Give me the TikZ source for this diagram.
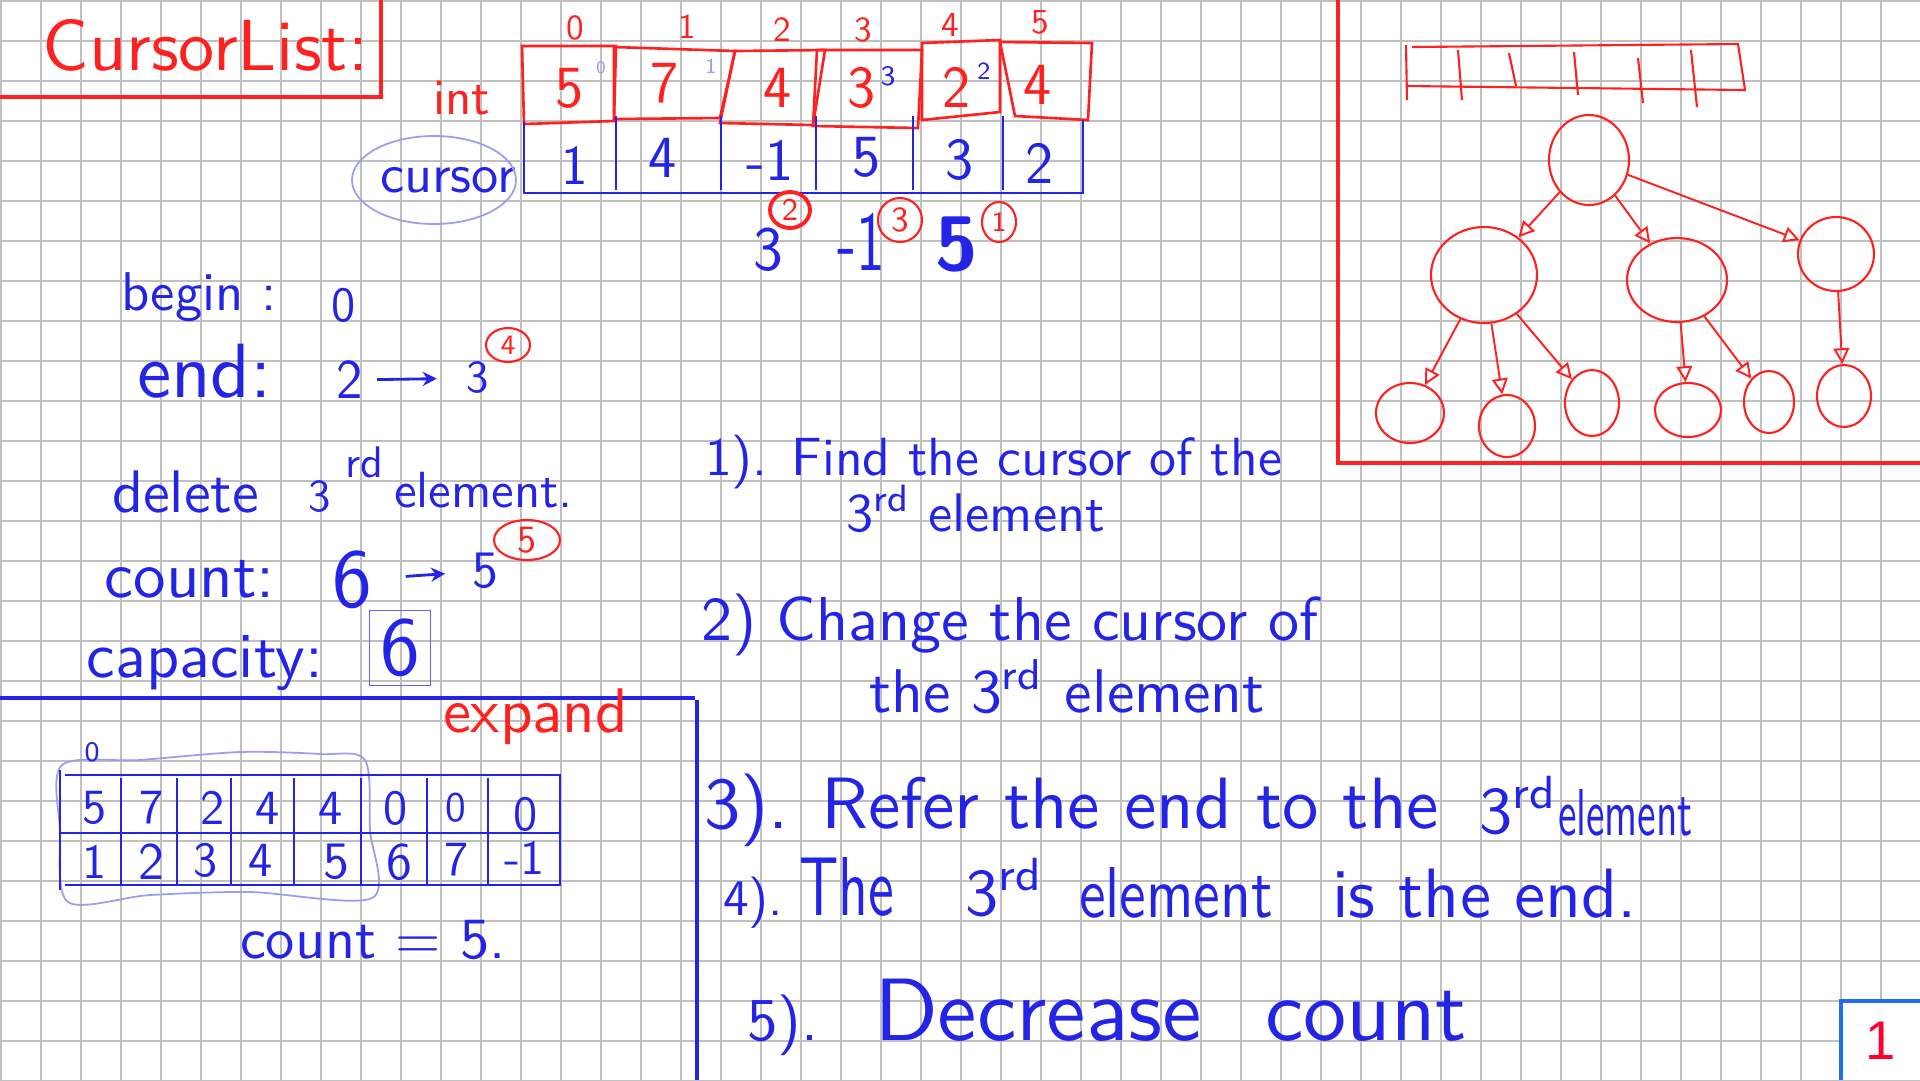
\documentclass[tikz,border=0pt]{standalone}
\usepackage{fontspec}
\usepackage{graphicx}
\usetikzlibrary{shapes.geometric,arrows.meta}
\newfontfamily\pgfont{Liberation Sans}
\newlength\pxu
\setlength\pxu{0.1mm}
\newcommand{\hw}[2]{\resizebox{#1\pxu}{!}{#2}}
\newcommand{\hwh}[3]{\resizebox{#1\pxu}{#2\pxu}{#3}}
\newcommand{\pfs}[1]{\sffamily\fontsize{#1}{#1}\selectfont}
\definecolor{pen}{HTML}{2424E6}
\definecolor{rpen}{HTML}{FF2020}
\definecolor{lpen}{HTML}{9C9CF0}
\definecolor{gridc}{HTML}{C0C0C0}
\definecolor{frameb}{HTML}{1F6FF0}
\definecolor{pgred}{HTML}{FF0030}
\begin{document}
\begin{tikzpicture}[x=0.1mm,y=-0.1mm,font=\sffamily,
  gridline/.style={draw=gridc,line width=0.55pt},
  txt/.style={inner sep=0pt,outer sep=0pt,anchor=base west},
  dg/.style={inner sep=0pt,outer sep=0pt,anchor=center},
  bl/.style={text=pen},
  rd/.style={text=rpen},
  bline/.style={draw=pen,line width=0.75pt},
  rline/.style={draw=rpen,line width=0.75pt},
  tnode/.style={ellipse,draw=rpen,line width=0.6pt,inner sep=0pt},
  cnum/.style={ellipse,draw=rpen,line width=0.6pt,inner sep=0pt,text=rpen},
  tarr/.style={draw=rpen,line width=0.55pt,-{Triangle[open,length=4.5pt,width=4.5pt]}},
  barr/.style={draw=pen,line width=0.8pt,-{Stealth[length=4pt,width=4pt]}}]
\useasboundingbox (0,0) rectangle (1920,1080);
\fill[white] (0,0) rectangle (1920,1080);
\foreach \i in {0,...,48} \draw[gridline] (\i*40+1,0) -- (\i*40+1,1080);
\foreach \j in {0,...,27} \draw[gridline] (0,\j*40+1) -- (1920,\j*40+1);

% ---------- title ----------
\draw[rline,line width=1pt] (381,0) -- (381,97) -- (0,97);
\node[txt,rd] (title) at (43,70) {\hw{325}{CursorList:}};

% ---------- top array ----------
\draw[rline] (522,46) -- (616,46) -- (614,121) -- (524,124) -- cycle;
\draw[rline] (614,47) -- (735,51) -- (720,118) -- (614,119) -- cycle;
\draw[rline] (735,51) -- (825,50) -- (813,125) -- (720,123) -- cycle;
\draw[rline] (817,50) -- (922,50) -- (918,128) -- (813,126) -- cycle;
\draw[rline] (922,43) -- (1000,40) -- (1000,112) -- (922,120) -- cycle;
\draw[rline] (1000,42) -- (1092,43) -- (1088,120) -- (1015,116) -- cycle;
\draw[bline] (524,122) -- (524,193) -- (1083,193) -- (1083,120);
\foreach \x in {616,721,816,913,1003} \draw[bline] (\x,116) -- (\x,190);

\node[dg,rd,font=\pfs{10}] (ix0) at (575,28) {0};
\node[dg,rd,font=\pfs{10}] (ix1) at (687,27) {1};
\node[dg,rd,font=\pfs{10}] (ix2) at (782,30) {2};
\node[dg,rd,font=\pfs{10}] (ix3) at (863,30) {3};
\node[dg,rd,font=\pfs{10}] (ix4) at (950,25) {4};
\node[dg,rd,font=\pfs{10}] (ix5) at (1040,22) {5};

\node[dg,rd,font=\pfs{17}] (rv0) at (570,88) {5};
\node[dg,rd,font=\pfs{17}] (rv1) at (665,83) {7};
\node[dg,rd,font=\pfs{17}] (rv2) at (778,88) {4};
\node[dg,rd,font=\pfs{17}] (rv3) at (862,88) {3};
\node[dg,rd,font=\pfs{17}] (rv4) at (957,87) {2};
\node[dg,rd,font=\pfs{17}] (rv5) at (1038,85) {4};

\node[dg,text=lpen,font=\pfs{5}] (sp0) at (601,68) {0};
\node[dg,text=lpen,font=\pfs{6}] (sp1) at (711,66) {1};
\node[dg,bl,font=\pfs{8}] (sp3) at (888,76) {3};
\node[dg,bl,font=\pfs{7}] (sp4) at (984,71) {2};

\node[dg,bl,font=\pfs{16}] (cv0) at (575,166) {1};
\node[dg,bl,font=\pfs{17}] (cv1) at (663,158) {4};
\node[dg,bl,font=\pfs{17}] (cv2) at (770,160) {-1};
\node[dg,bl,font=\pfs{17}] (cv3) at (867,157) {5};
\node[dg,bl,font=\pfs{17}] (cv4) at (960,160) {3};
\node[dg,bl,font=\pfs{17}] (cv5) at (1040,163) {2};

\node[txt,rd] (intl) at (433,114) {\hw{57}{int}};
\node[txt,bl] (curl) at (380,192) {\hw{136}{cursor}};
\node[ellipse,draw=lpen,line width=0.5pt,minimum width=16.4mm,minimum height=8.8mm] (curov) at (434,180) {};

% under the array
\node[dg,bl,font=\pfs{18}] (u3) at (768,250) {3};
\node[cnum,line width=1.1pt,minimum width=4mm,minimum height=3.6mm,font=\pfs{9}] (k2) at (790,210) {2};
\node[txt,bl] (um1) at (837,270) {\hwh{48}{57}{-1}};
\node[cnum,minimum width=4.4mm,minimum height=4.4mm,font=\pfs{10}] (k3) at (900,220) {3};
\node[dg,bl,font=\pfs{22}\bfseries] (u5) at (957,245) {5};
\node[cnum,minimum width=3.4mm,minimum height=4mm,font=\pfs{8}] (k1) at (999,222) {1};

% ---------- tree panel ----------
\draw[rline,line width=1pt] (1338,0) -- (1338,463) -- (1920,463);
\draw[rline,line width=0.6pt] (1406,45) -- (1407,100);
\draw[rline,line width=0.6pt] (1412,47) -- (1738,44) -- (1745,90) -- (1406,86);
\draw[rline,line width=0.6pt] (1458,50) -- (1462,100);
\draw[rline,line width=0.6pt] (1509,53) -- (1516,86);
\draw[rline,line width=0.6pt] (1574,52) -- (1578,95);
\draw[rline,line width=0.6pt] (1638,58) -- (1643,103);
\draw[rline,line width=0.6pt] (1691,50) -- (1697,107);

\node[tnode,minimum width=8.0mm,minimum height=9.0mm] (root) at (1589,160) {};
\node[tnode,minimum width=10.6mm,minimum height=9.6mm] (ta) at (1484,275) {};
\node[tnode,minimum width=10.0mm,minimum height=8.4mm] (tb) at (1677,280) {};
\node[tnode,minimum width=7.6mm,minimum height=7.4mm] (tc) at (1836,254) {};
\node[tnode,minimum width=6.8mm,minimum height=6.0mm] (c1) at (1410,413) {};
\node[tnode,minimum width=5.6mm,minimum height=6.2mm] (c2) at (1507,426) {};
\node[tnode,minimum width=5.4mm,minimum height=6.6mm] (c3) at (1592,403) {};
\node[tnode,minimum width=6.6mm,minimum height=5.4mm] (c4) at (1688,410) {};
\node[tnode,minimum width=5.0mm,minimum height=6.2mm] (c5) at (1769,402) {};
\node[tnode,minimum width=5.4mm,minimum height=6.2mm] (c6) at (1844,396) {};
\draw[tarr] (root) -- (ta);
\draw[tarr] (root) -- (tb);
\draw[tarr] (root) -- (tc);
\draw[tarr] (ta) -- (c1);
\draw[tarr] (ta) -- (c2);
\draw[tarr] (ta) -- (c3);
\draw[tarr] (tb) -- (c4);
\draw[tarr] (tb) -- (c5);
\draw[tarr] (tc) -- (c6);

% ---------- left block ----------
\node[txt,bl] (lbeg) at (121,310) {\hw{156}{begin :}};
\node[dg,bl,font=\pfs{14}] (beg0) at (344,305) {0};

\node[txt,bl] (lend) at (137,397) {\hw{135}{end:}};
\node[dg,bl,font=\pfs{16}] (e2) at (350,380) {2};
\node[dg,bl,font=\pfs{13}] (e3) at (478,378) {3};
\draw[barr,shorten <=1.4mm,shorten >=3mm] (e2) -- (e3);
\node[cnum,minimum width=4.4mm,minimum height=3.4mm,font=\pfs{8}] (k4) at (508,345) {4};

\node[txt,bl] (ldel) at (112,512) {\hw{147}{delete}};
\node[dg,bl,font=\pfs{13}] (ldel3) at (320,497) {3};
\node[txt,bl] (ldelrd) at (345,477) {\hw{38}{rd}};
\node[txt,bl] (ldelel) at (394,507) {\hw{179}{element.}};

\node[txt,bl] (lcnt) at (105,597) {\hw{170}{count:}};
\node[dg,bl,font=\pfs{24}] (n6) at (352,580) {6};
\node[dg,bl,font=\pfs{15}] (n5) at (485,571) {5};
\draw[barr,shorten <=3.4mm,shorten >=2.7mm] (n6) -- (n5);
\node[cnum,minimum width=6.6mm,minimum height=4mm,font=\pfs{11}] (k5) at (527,540) {5};

\node[txt,bl] (lcap) at (87,677) {\hw{236}{capacity:}};
\node[draw=pen!70,line width=0.5pt,inner sep=0pt,minimum width=6.1mm,minimum height=7.5mm,text=pen,font=\pfs{24}] (cap6) at (400,648) {6};

\draw[bline,line width=1pt] (0,698) -- (695,698);
\draw[bline,line width=1pt] (697,700) -- (697,1080);

\node[txt,rd] (lexp) at (443,732) {\hw{185}{expand}};

% ---------- bottom table ----------
\draw[lpen,line width=0.5pt] plot[smooth cycle] coordinates {(62,765) (140,760) (240,752) (320,754) (365,760) (370,830) (372,898) (250,892) (150,895) (68,902) (60,830)};
\draw[bline] (60,770) -- (60,890);
\draw[bline] (65,775) -- (560,775) -- (560,885) -- (65,885);
\draw[bline] (60,833) -- (560,833);
\foreach \x in {121,177,231,294,361,427,488} \draw[bline] (\x,778) -- (\x,885);
\node[dg,bl,font=\pfs{8}] (bi0) at (92,752) {0};
\node[dg,bl,font=\pfs{14}] (bt0) at (95,808) {5};
\node[dg,bl,font=\pfs{14}] (bt1) at (152,808) {7};
\node[dg,bl,font=\pfs{14}] (bt2) at (213,808) {2};
\node[dg,bl,font=\pfs{14}] (bt3) at (268,808) {4};
\node[dg,bl,font=\pfs{14}] (bt4) at (331,808) {4};
\node[dg,bl,font=\pfs{14}] (bt5) at (396,808) {0};
\node[dg,bl,font=\pfs{12}] (bt6) at (456,808) {0};
\node[dg,bl,font=\pfs{14}] (bt7) at (526,814) {0};
\node[dg,bl,font=\pfs{14}] (bb0) at (95,862) {1};
\node[dg,bl,font=\pfs{15}] (bb1) at (151,862) {2};
\node[dg,bl,font=\pfs{14}] (bb2) at (206,860) {3};
\node[dg,bl,font=\pfs{14}] (bb3) at (261,860) {4};
\node[dg,bl,font=\pfs{15}] (bb4) at (336,862) {5};
\node[dg,bl,font=\pfs{15}] (bb5) at (399,862) {6};
\node[dg,bl,font=\pfs{14}] (bb6) at (457,860) {7};
\node[dg,bl,font=\pfs{14}] (bb7) at (525,858) {-1};

\node[txt,bl] (bcount) at (240,958) {\hw{266}{count = 5.}};

% ---------- steps ----------
\node[txt,bl] (s1) at (705,475) {\hw{577}{1). Find the cursor of the}};
\node[txt,bl] (s1b) at (846,531) {\hw{259}{3\textsuperscript{rd} element}};
\node[txt,bl] (s2) at (701,640) {\hw{617}{2) Change the cursor of}};
\node[txt,bl] (s2b) at (869,712) {\hw{396}{the 3\textsuperscript{rd} element}};
\node[txt,bl] (s3a) at (704,828) {\hw{735}{3). Refer the end to the}};
\node[txt,bl] (s3b) at (1479,833) {\hw{79}{3\textsuperscript{rd}}};
\node[txt,bl] (s3c) at (1558,835) {\hwh{135}{46}{element}};
\node[txt,bl] (s4a) at (723,915) {\hw{60}{4).}};
\node[txt,bl] (s4t) at (799,915) {\hwh{95}{58}{The}};
\node[txt,bl] (s4b) at (965,915) {\hw{79}{3\textsuperscript{rd}}};
\node[txt,bl] (s4c) at (1079,917) {\hwh{194}{50}{element}};
\node[txt,bl] (s4d) at (1332,917) {\hw{305}{is the end.}};
\node[txt,bl] (s5a) at (747,1040) {\hw{71}{5).}};
\node[txt,bl] (s5b) at (874,1040) {\hw{328}{Decrease}};
\node[txt,bl] (s5c) at (1265,1040) {\hw{202}{count}};

% ---------- page number box ----------
\fill[white] (1841,1001) rectangle (1920,1080);
\draw[draw=frameb,line width=1pt] (1841,1080) -- (1841,1001) -- (1920,1001);
\node[dg,text=pgred,font=\pgfont\fontsize{15.5}{15.5}\selectfont] (pg) at (1881,1041) {1};
\end{tikzpicture}
\end{document}
